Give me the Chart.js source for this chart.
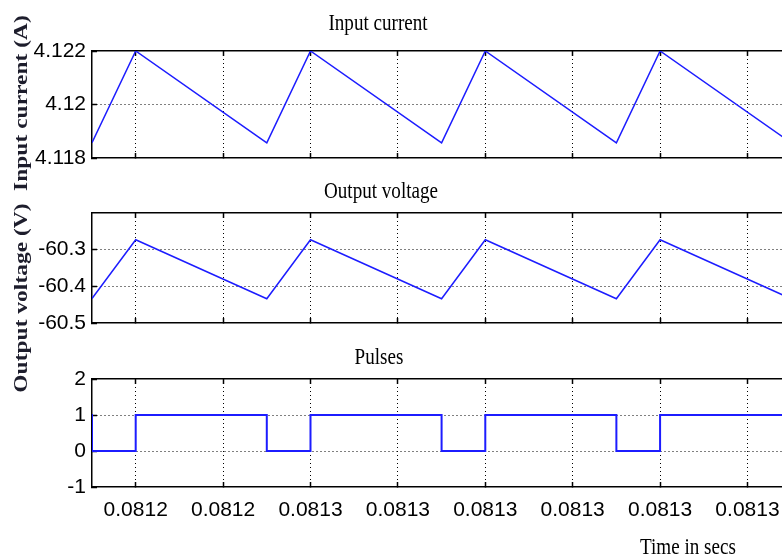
<!DOCTYPE html>
<html>
<head>
<meta charset="utf-8">
<script src="https://cdn.jsdelivr.net/npm/chart.js@4/dist/chart.umd.min.js"></script>
<style>
html,body{margin:0;padding:0;background:#fff;}
#wrap{position:relative;width:782px;height:560px;overflow:hidden;background:#fff;}
.box{position:absolute;left:0;width:782px;}
.ttl{position:absolute;width:300px;text-align:center;font-family:'Liberation Serif','Times New Roman',serif;font-size:23px;line-height:23px;color:#000;white-space:nowrap;transform:scaleX(0.83);z-index:5;}
.ylab{position:absolute;width:260px;text-align:center;font-family:'Liberation Serif','Times New Roman',serif;font-weight:bold;font-size:23.5px;line-height:23px;color:#1d1d2c;white-space:nowrap;z-index:5;}
</style>
</head>
<body>
<div id="wrap">
  <div class="box" style="top:0;height:185px"><canvas id="c1" width="782" height="185"></canvas></div>
  <div class="box" style="top:190px;height:160px"><canvas id="c2" width="782" height="160"></canvas></div>
  <div class="box" style="top:355px;height:205px"><canvas id="c3" width="782" height="205"></canvas></div>

  <div class="ttl" style="left:228px;top:11px">Input current</div>
  <div class="ttl" style="left:231px;top:179px">Output voltage</div>
  <div class="ttl" style="left:229px;top:345px">Pulses</div>
  <div class="ttl" style="left:538px;top:535px">Time in secs</div>

  <div class="ylab" style="left:21px;top:103px;transform:translate(-50%,-50%) rotate(-90deg) scale(1,0.8)">Input current (A)</div>
  <div class="ylab" style="left:21px;top:298px;transform:translate(-50%,-50%) rotate(-90deg) scale(1,0.8)">Output voltage (V)</div>
</div>
<script>
// ---- data ----
const timeSaw = [0.081225, 0.08123, 0.081245, 0.08125, 0.081265, 0.08127, 0.081285, 0.08129, 0.081305];
const inputCurrent = [4.11857, 4.122, 4.11857, 4.122, 4.11857, 4.122, 4.11857, 4.122, 4.11857];
const outputVoltage = [-60.433, -60.273, -60.434, -60.273, -60.434, -60.273, -60.434, -60.273, -60.434];
const timePulse = [0.08121, 0.081225, 0.08123, 0.081245, 0.08125, 0.081265, 0.08127, 0.081285, 0.08129, 0.081305];
const pulses = [1, 0, 1, 0, 1, 0, 1, 0, 1, 0];

const xTickValues = [0.08123, 0.08124, 0.08125, 0.08126, 0.08127, 0.08128, 0.08129, 0.0813];
const xTickLabels = ['0.0812', '0.0812', '0.0813', '0.0813', '0.0813', '0.0813', '0.0813', '0.0813'];
const xRange = [0.081225, 0.08130395];

const currentTicks = [4.118, 4.12, 4.122];
const currentTickLabels = ['4.118', '4.12', '4.122'];
const currentRange = [4.118, 4.122];

const voltageTicks = [-60.5, -60.4, -60.3];
const voltageTickLabels = ['-60.5', '-60.4', '-60.3'];
const voltageRange = [-60.5, -60.2];

const pulseTicks = [-1, 0, 1, 2];
const pulseTickLabels = ['-1', '0', '1', '2'];
const pulseRange = [-1, 2];

// ---- styling ----
const tickFont = {family: "'Liberation Sans', Arial, sans-serif", size: 21};
const LINE = '#1c1cff';

function xAxes(showLabels, height) {
  return {
    x: {
      type: 'linear', position: 'bottom', min: xRange[0], max: xRange[1],
      afterBuildTicks: s => { s.ticks = xTickValues.map(v => ({value: v})); },
      afterFit: s => { s.height = height; s.paddingLeft = 0; s.paddingRight = 0; },
      grid: {color: '#000', lineWidth: 1, drawTicks: true, tickLength: -5, tickColor: '#000', tickWidth: 1.5, tickBorderDash: []},
      border: {display: true, color: '#000', width: 1.5, dash: [1, 3]},
      ticks: {display: showLabels, autoSkip: false, maxRotation: 0, padding: 16, font: tickFont, color: '#000',
              callback: (v, i) => xTickLabels[i]}
    },
    xTop: {
      type: 'linear', position: 'top', min: xRange[0], max: xRange[1],
      afterBuildTicks: s => { s.ticks = xTickValues.map(v => ({value: v})); },
      afterFit: s => { s.height = 0; s.paddingLeft = 0; s.paddingRight = 0; },
      grid: {drawOnChartArea: false, drawTicks: true, tickLength: -5, tickColor: '#000', tickWidth: 1.5, tickBorderDash: []},
      border: {display: true, color: '#000', width: 1.5},
      ticks: {display: false}
    }
  };
}

function yAxis(range, ticks, labels) {
  return {
    type: 'linear', position: 'left', min: range[0], max: range[1],
    afterBuildTicks: s => { s.ticks = ticks.map(v => ({value: v})); },
    afterFit: s => { s.width = 92; s.paddingTop = 0; s.paddingBottom = 0; },
    grid: {
      color: ctx => (ctx.tick && (Math.abs(ctx.tick.value - range[0]) < 1e-9 || Math.abs(ctx.tick.value - range[1]) < 1e-9)) ? 'rgba(0,0,0,0)' : '#000',
      lineWidth: 1, drawTicks: true, tickLength: -5, tickColor: '#000', tickWidth: 1.5, tickBorderDash: []
    },
    border: {display: true, color: '#000', width: 1.5, dash: [1, 3]},
    ticks: {padding: 11, font: tickFont, color: '#000', callback: (v, i) => labels[i]}
  };
}

function makeChart(id, xs, ys, opts) {
  const scales = Object.assign({}, xAxes(opts.showX, opts.xHeight), {y: yAxis(opts.range, opts.ticks, opts.labels)});
  return new Chart(document.getElementById(id), {
    type: 'line',
    data: {
      datasets: [{
        data: xs.map((t, i) => ({x: t, y: ys[i]})),
        borderColor: LINE, borderWidth: opts.width, pointRadius: 0, fill: false,
        stepped: opts.stepped || false, tension: 0
      }]
    },
    options: {
      responsive: false, animation: false, devicePixelRatio: 1,
      layout: {padding: {top: opts.padTop, bottom: opts.padBottom, left: 0, right: 0}},
      plugins: {legend: {display: false}, title: {display: false}, tooltip: {enabled: false}},
      scales: scales
    }
  });
}

makeChart('c1', timeSaw, inputCurrent, {showX: false, xHeight: 0, range: currentRange, ticks: currentTicks, labels: currentTickLabels, padTop: 51, padBottom: 27, width: 1.5});
makeChart('c2', timeSaw, outputVoltage, {showX: false, xHeight: 0, range: voltageRange, ticks: voltageTicks, labels: voltageTickLabels, padTop: 23, padBottom: 27, width: 1.5});
makeChart('c3', timePulse, pulses, {showX: true, xHeight: 73, range: pulseRange, ticks: pulseTicks, labels: pulseTickLabels, padTop: 24, padBottom: 0, width: 2, stepped: 'before'});
</script>
</body>
</html>
